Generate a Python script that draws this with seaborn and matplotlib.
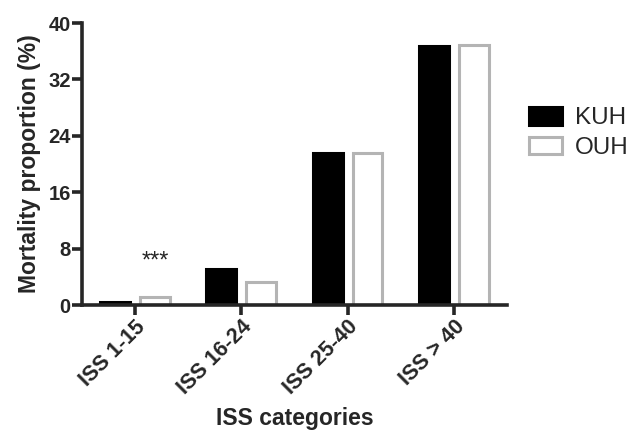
import pandas as pd
import seaborn as sns
import matplotlib.pyplot as plt

# Data
categories = ['ISS 1-15', 'ISS 16-24', 'ISS 25-40', 'ISS > 40']
kuh = [0.4, 5.1, 21.5, 36.8]
ouh = [1.2, 3.3, 21.6, 36.9]
hospitals = ['KUH', 'OUH']
yticks = [0, 8, 16, 24, 32, 40]

data = pd.DataFrame({
    'category': categories * 2,
    'hospital': ['KUH'] * len(categories) + ['OUH'] * len(categories),
    'mortality': kuh + ouh,
})

sns.set_style('ticks')
plt.rcParams['font.family'] = ['Liberation Sans', 'DejaVu Sans']

fig = plt.figure(figsize=(6.29, 4.34), dpi=100)
ax = fig.add_axes([0.130, 0.297, 0.676, 0.650])

sns.barplot(data=data, x='category', y='mortality', hue='hospital',
            order=categories, hue_order=hospitals,
            palette={'KUH': 'black', 'OUH': 'white'},
            width=0.75, gap=0.25, legend=False, ax=ax)

# Outline styles
edge = {'KUH': 'black', 'OUH': '#b4b4b4'}
for cont, name in zip(ax.containers, hospitals):
    for bar in cont:
        bar.set_edgecolor(edge[name])
        bar.set_linewidth(2.2)

# Significance marker above OUH bar of first group
b = ax.containers[1][0]
ax.text(b.get_x() + b.get_width() / 2, 4.6, '***', ha='center', va='bottom',
        fontsize=17)

ax.set_ylim(0, 40)
ax.set_yticks(yticks)
ax.set_xlim(-0.5, len(categories) - 0.5)
sns.despine(ax=ax)
for side in ['left', 'bottom']:
    ax.spines[side].set_linewidth(2.6)
ax.tick_params(width=2.6, length=7, labelsize=14.5, pad=1)
ax.tick_params(axis='x', labelsize=15.5)
for lab in ax.get_yticklabels():
    lab.set_fontweight('bold')
for lab in ax.get_xticklabels():
    lab.set_fontweight('bold')
    lab.set_rotation(45)
    lab.set_ha('right')
    lab.set_rotation_mode('anchor')

ax.set_ylabel('Mortality proportion (%)', fontsize=16.5, fontweight='bold', labelpad=5)
ax.set_xlabel('ISS categories', fontsize=16.5, fontweight='bold', labelpad=6)

ax.legend(ax.containers, hospitals, loc='center left', bbox_to_anchor=(1.0, 0.61),
          frameon=False, fontsize=17.5, handlelength=1.35, handleheight=0.75,
          handletextpad=0.55, labelspacing=0.3)

fig.savefig('out.png', dpi=100)
